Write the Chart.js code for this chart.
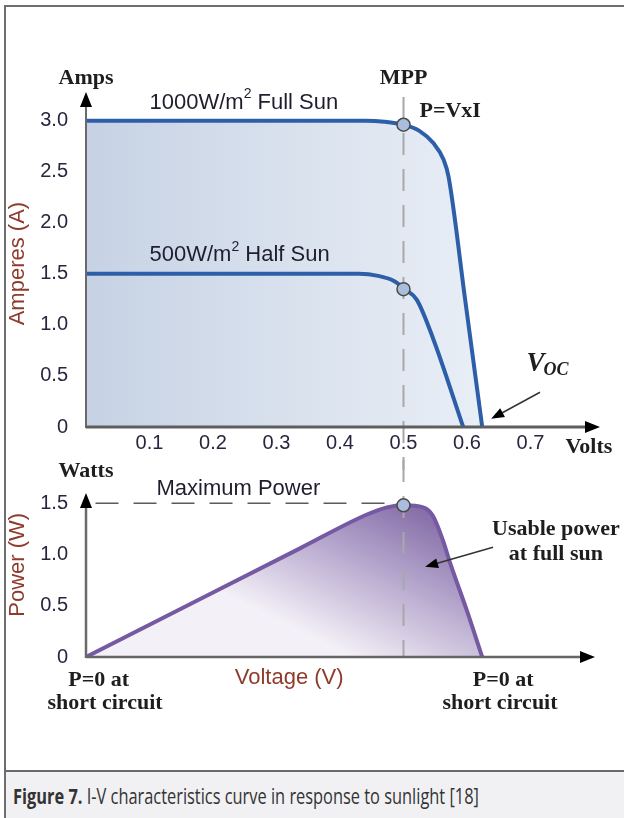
<!DOCTYPE html>
<html>
<head>
<meta charset="utf-8">
<script src="https://cdn.jsdelivr.net/npm/chart.js@4.4.1/dist/chart.umd.min.js"></script>
<style>
  html, body { margin: 0; padding: 0; background: #fff; }
  body { width: 624px; height: 818px; position: relative; overflow: hidden; }
  #frame { position: absolute; left: 4px; top: 5px; width: 660px; height: 820px;
           border-top: 2px solid #6e6e6e; border-left: 2px solid #6e6e6e; }
  #ivChart { position: absolute; left: 0; top: 0; }
  #pvChart { position: absolute; left: 0; top: 460px; }
  #caption { position: absolute; left: 4px; top: 770px; width: 660px; height: 48px;
             background: #f1f1f3; border-top: 2px solid #6a6a6a; border-left: 2px solid #6e6e6e; }
  #caption span.t { position: absolute; left: 7px; top: 10px; white-space: nowrap;
             font: 21px 'Open Sans', sans-serif; color: #333; transform: scaleX(0.78); transform-origin: 0 50%; }
</style>
</head>
<body>
<div id="frame"></div>
<canvas id="ivChart" width="624" height="470"></canvas>
<canvas id="pvChart" width="624" height="310"></canvas>
<div id="caption"><span class="t"><b>Figure 7.</b> I-V characteristics curve in response to sunlight [18]</span></div>
<script>
// values
const voltTicks = [0.1, 0.2, 0.3, 0.4, 0.5, 0.6, 0.7];
const ampTicks = [0, 0.5, 1.0, 1.5, 2.0, 2.5, 3.0];
const wattTicks = [0, 0.5, 1.0, 1.5];

const fullSunV = [0, 0.2, 0.44, 0.47, 0.5, 0.525, 0.547, 0.563, 0.571, 0.597, 0.624];
const fullSunI = [3.0, 3.0, 3.0, 2.99, 2.96, 2.9, 2.78, 2.62, 2.45, 1.25, 0];
const halfSunV = [0, 0.2, 0.43, 0.46, 0.485, 0.502, 0.521, 0.547, 0.594];
const halfSunI = [1.5, 1.5, 1.5, 1.48, 1.43, 1.35, 1.245, 0.86, 0];
const powerV = [0, 0.2, 0.337, 0.4425, 0.474, 0.5, 0.531, 0.546, 0.562, 0.573, 0.6, 0.624];
const powerW = [0, 0.63, 1.06, 1.39, 1.46, 1.48, 1.46, 1.38, 1.14, 0.925, 0.45, 0];
const mppV = [0.5, 0.5];
const mppI = [2.96, 1.35];
const mppW = [1.48];

const pts = (xs, ys) => xs.map((v, i) => ({ x: v, y: ys[i] }));

const tickFont = { family: 'Liberation Sans', size: 20 };
const tickColor = '#26263e';
const serifBold = 'bold 22px "Liberation Serif"';
const sansFont = '22px "Liberation Sans"';
const brown = '#8e3b2b';

function label(c, s, x, y, font, color, align) {
    c.save();
    c.font = font;
    c.fillStyle = color || '#1e1e1e';
    c.textAlign = align || 'center';
    c.textBaseline = 'middle';
    c.fillText(s, x, y);
    c.restore();
}

function vlabel(c, s, x, y, font, color) {
    c.save();
    c.translate(x, y);
    c.rotate(-Math.PI / 2);
    label(c, s, 0, 0, font, color);
    c.restore();
}

// text with a superscript "2" after the first part
function supLabel(c, a, b, x, y) {
    c.save();
    c.font = sansFont;
    c.fillStyle = '#1e1e2e';
    c.textBaseline = 'middle';
    c.fillText(a, x, y);
    let w = c.measureText(a).width;
    c.font = '14px "Liberation Sans"';
    c.fillText('2', x + w, y - 8);
    w += c.measureText('2').width;
    c.font = sansFont;
    c.fillText(b, x + w, y);
    c.restore();
}

function arrow(c, x1, y1, x2, y2, width, color, head, spread) {
    const ang = Math.atan2(y2 - y1, x2 - x1);
    const cs = Math.cos(ang), sn = Math.sin(ang);
    c.save();
    c.strokeStyle = color;
    c.lineWidth = width;
    c.beginPath();
    c.moveTo(x1, y1);
    c.lineTo(x2 - cs * head * 0.7, y2 - sn * head * 0.7);
    c.stroke();
    c.fillStyle = '#000';
    c.beginPath();
    c.moveTo(x2, y2);
    c.lineTo(x2 - head * cs + spread * sn, y2 - head * sn - spread * cs);
    c.lineTo(x2 - head * cs - spread * sn, y2 - head * sn + spread * cs);
    c.closePath();
    c.fill();
    c.restore();
}

function dashed(c, x1, y1, x2, y2, color, width, dash) {
    c.save();
    c.strokeStyle = color;
    c.lineWidth = width;
    c.setLineDash(dash);
    c.beginPath();
    c.moveTo(x1, y1);
    c.lineTo(x2, y2);
    c.stroke();
    c.restore();
}

function xScale(height, showTicks) {
    return {
        type: 'linear', min: 0, max: 0.8,
        grid: { display: false, drawTicks: false },
        border: { display: false },
        afterBuildTicks: s => { s.ticks = voltTicks.map(v => ({ value: v })); },
        afterFit: s => { s.height = height; },
        ticks: { display: showTicks, padding: 4, color: tickColor, font: tickFont,
                 maxRotation: 0, autoSkip: false, callback: v => v.toFixed(1) }
    };
}

function yScale(max, values) {
    return {
        type: 'linear', min: 0, max: max,
        grid: { display: false, drawTicks: false },
        border: { display: false },
        afterBuildTicks: s => { s.ticks = values.map(v => ({ value: v })); },
        afterFit: s => { s.width = 86; },
        ticks: { padding: 18, color: tickColor, font: tickFont,
                 callback: v => v === 0 ? '0' : v.toFixed(1) }
    };
}

const ivNotes = {
    id: 'ivNotes',
    beforeDatasetDraw(chart, args) {
        if (args.index !== 0) return;
        const c = chart.ctx, x = chart.scales.x;
        dashed(c, x.getPixelForValue(0.5), 97, x.getPixelForValue(0.5), chart.height, '#a8a8a8', 2, [22, 14]);
    },
    afterDatasetsDraw(chart) {
        const c = chart.ctx, x = chart.scales.x, y = chart.scales.y, a = chart.chartArea;
        const X = v => x.getPixelForValue(v), Y = v => y.getPixelForValue(v);
        // axes with arrow heads
        arrow(c, a.left, Y(0) + 1, a.left, a.top + 2, 2, '#6a6a6a', 15, 6);
        arrow(c, a.left, Y(0), a.right + 6, Y(0), 3, '#5e5e5e', 15, 6);

        label(c, 'Amps', X(0), a.top - 12, serifBold);
        label(c, 'MPP', X(0.5), a.top - 12, serifBold);
        label(c, 'P=VxI', X(0.5) + 16, Y(3.0) - 9, serifBold, '#1e1e1e', 'left');
        supLabel(c, '1000W/m', ' Full Sun', X(0.1), Y(3.0) - 18);
        supLabel(c, '500W/m', ' Half Sun', X(0.1), Y(1.5) - 19);
        label(c, 'Volts', X(0.755), a.bottom + 20, serifBold, '#1e1e1e', 'left');
        vlabel(c, 'Amperes (A)', 18, Y(1.6), sansFont, brown);

        // V_OC
        c.save();
        c.fillStyle = '#1e1e1e';
        c.textBaseline = 'middle';
        c.font = 'italic bold 27px "Liberation Serif"';
        c.fillText('V', X(0.7) - 4, Y(0.62));
        const vw = c.measureText('V').width;
        c.font = 'italic bold 18px "Liberation Serif"';
        c.fillText('OC', X(0.7) - 4 + vw - 1, Y(0.55));
        c.restore();
        arrow(c, X(0.715), Y(0.34), X(0.638), Y(0.08), 1.5, '#333', 13, 5);
    }
};

const pvNotes = {
    id: 'pvNotes',
    beforeDatasetDraw(chart, args) {
        if (args.index !== 0) return;
        const c = chart.ctx, x = chart.scales.x, y = chart.scales.y;
        dashed(c, x.getPixelForValue(0.5), 0, x.getPixelForValue(0.5), y.getPixelForValue(0), '#a8a8a8', 2, [22, 14]);
        dashed(c, x.getPixelForValue(0.015), y.getPixelForValue(1.5), x.getPixelForValue(0.5), y.getPixelForValue(1.5), '#5a5a5a', 1.5, [23, 15]);
    },
    afterDatasetsDraw(chart) {
        const c = chart.ctx, x = chart.scales.x, y = chart.scales.y, a = chart.chartArea;
        const X = v => x.getPixelForValue(v), Y = v => y.getPixelForValue(v);
        arrow(c, a.left, Y(0) + 1, a.left, a.top, 2.5, '#6a6a6a', 15, 6);
        arrow(c, a.left, Y(0), a.right + 1, Y(0), 2.5, '#666', 15, 6);

        label(c, 'Watts', X(0), a.top - 22, serifBold);
        label(c, 'Maximum Power', X(0.24), Y(1.5) - 14, sansFont, '#1e1e2e');
        vlabel(c, 'Power (W)', 18, Y(0.9), sansFont, brown);
        label(c, 'Voltage (V)', X(0.32), a.bottom + 21, sansFont, brown);
        label(c, 'P=0 at', X(0.02), a.bottom + 23, serifBold);
        label(c, 'short circuit', X(0.03), a.bottom + 46, serifBold);
        label(c, 'P=0 at', X(0.657), a.bottom + 23, serifBold);
        label(c, 'short circuit', X(0.652), a.bottom + 46, serifBold);
        label(c, 'Usable power', X(0.74), Y(1.25), serifBold);
        label(c, 'at full sun', X(0.74), Y(1.0), serifBold);
        arrow(c, X(0.641), Y(1.07), X(0.534), Y(0.88), 1.5, '#333', 13, 5);
    }
};

const ivChart = new Chart(document.getElementById('ivChart'), {
    type: 'line',
    data: {
        datasets: [
            {
                label: 'MPP',
                data: pts(mppV, mppI),
                showLine: false,
                pointRadius: 6.5,
                pointBackgroundColor: '#a9bedd',
                pointBorderColor: '#4a4a4a',
                pointBorderWidth: 1.5,
                order: 0
            },
            {
                label: '1000W/m2 Full Sun',
                data: pts(fullSunV, fullSunI),
                borderColor: '#2d5fa8',
                borderWidth: 4,
                pointRadius: 0,
                cubicInterpolationMode: 'monotone',
                fill: 'origin',
                backgroundColor: ctx => {
                    const area = ctx.chart.chartArea;
                    if (!area) return '#d6dfec';
                    const x = ctx.chart.scales.x;
                    const g = ctx.chart.ctx.createLinearGradient(area.left, 0, x.getPixelForValue(0.62), 0);
                    g.addColorStop(0, '#c6d2e4');
                    g.addColorStop(0.55, '#dae2ee');
                    g.addColorStop(1, '#e8eef6');
                    return g;
                },
                order: 2
            },
            {
                label: '500W/m2 Half Sun',
                data: pts(halfSunV, halfSunI),
                borderColor: '#2d5fa8',
                borderWidth: 4,
                pointRadius: 0,
                cubicInterpolationMode: 'monotone',
                fill: false,
                order: 1
            }
        ]
    },
    options: {
        responsive: false,
        animation: false,
        layout: { padding: { top: 90, right: 30, bottom: 0, left: 0 } },
        plugins: { legend: { display: false }, tooltip: { enabled: false } },
        scales: {
            x: xScale(43, true),
            y: yScale(3.3, ampTicks)
        }
    },
    plugins: [ivNotes]
});

const pvChart = new Chart(document.getElementById('pvChart'), {
    type: 'line',
    data: {
        datasets: [
            {
                label: 'MPP',
                data: pts([mppV[0]], mppW),
                showLine: false,
                pointRadius: 6.5,
                pointBackgroundColor: '#a9bedd',
                pointBorderColor: '#4a4a4a',
                pointBorderWidth: 1.5,
                order: 0
            },
            {
                label: 'Power',
                data: pts(powerV, powerW),
                borderColor: '#7559a2',
                borderWidth: 4,
                pointRadius: 0,
                cubicInterpolationMode: 'monotone',
                fill: 'origin',
                backgroundColor: ctx => {
                    const area = ctx.chart.chartArea;
                    if (!area) return '#c9bcd9';
                    const x = ctx.chart.scales.x, y = ctx.chart.scales.y;
                    const g = ctx.chart.ctx.createLinearGradient(
                        x.getPixelForValue(0.54), y.getPixelForValue(1.5),
                        x.getPixelForValue(0.42), y.getPixelForValue(0));
                    g.addColorStop(0, '#8066a3');
                    g.addColorStop(0.45, '#b3a4cb');
                    g.addColorStop(1, '#f3f0f7');
                    return g;
                },
                order: 1
            }
        ]
    },
    options: {
        responsive: false,
        animation: false,
        layout: { padding: { top: 33, right: 30, bottom: 0, left: 0 } },
        plugins: { legend: { display: false }, tooltip: { enabled: false } },
        scales: {
            x: xScale(113, false),
            y: yScale(1.6, wattTicks)
        }
    },
    plugins: [pvNotes]
});
</script>
</body>
</html>
